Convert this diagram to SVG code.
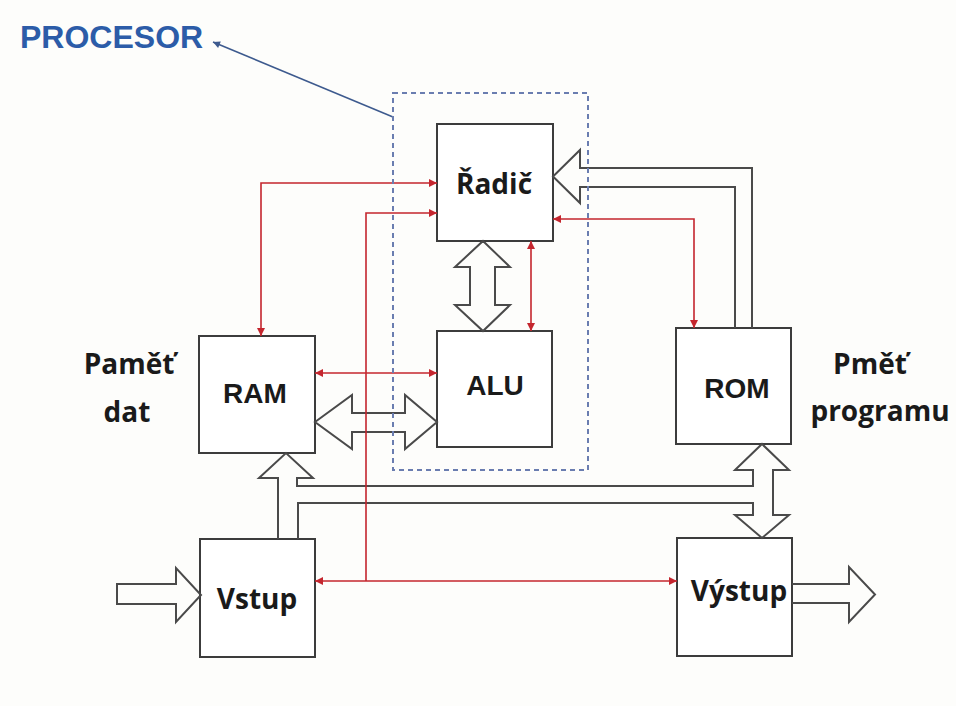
<svg xmlns="http://www.w3.org/2000/svg" width="956" height="706" viewBox="0 0 956 706">
<defs>
<style>
.box{fill:#fff;stroke:#3c3c3c;stroke-width:2}
.bus{fill:none;stroke:#4a4a4a;stroke-width:2;stroke-linejoin:miter}
.red{fill:none;stroke:#c4262e;stroke-width:1.6}
.lbl{font-family:"Liberation Sans",Arial,sans-serif;font-weight:bold;font-size:28px;fill:#1a1a1a;text-anchor:middle}
.lbl2{font-family:"Open Sans","Noto Sans",sans-serif;font-weight:bold;font-size:28px;fill:#1a1a1a;text-anchor:middle}
</style>
<marker id="ra" viewBox="0 0 10 10" refX="10" refY="5" markerWidth="9" markerHeight="8" markerUnits="userSpaceOnUse" orient="auto-start-reverse">
<path d="M0,0 L10,5 L0,10 Z" fill="#c4262e"/>
</marker>
<marker id="ba" viewBox="0 0 10 10" refX="10" refY="5" markerWidth="9" markerHeight="7" markerUnits="userSpaceOnUse" orient="auto">
<path d="M0,0 L10,5 L0,10 Z" fill="#3d5a8e"/>
</marker>
</defs>
<rect width="956" height="706" fill="#fdfdfb"/>

<g id="procesor-label">
<text x="20" y="48" font-family="Liberation Sans,Arial,sans-serif" font-weight="bold" font-size="32" fill="#2c5ca8">PROCESOR</text>
<line x1="393" y1="117" x2="213" y2="42" stroke="#3d5a8e" stroke-width="1.5" marker-end="url(#ba)"/>
</g>

<g id="radic"><rect class="box" x="437" y="124" width="116" height="117"/><text class="lbl2" x="494" y="194" font-size="29">Řadič</text></g>
<g id="alu"><rect class="box" x="437" y="331" width="115" height="116"/><text class="lbl" x="495" y="395">ALU</text></g>
<g id="ram"><rect class="box" x="199" y="336" width="116" height="117"/><text class="lbl" x="255" y="403">RAM</text></g>
<g id="rom"><rect class="box" x="676" y="328" width="115" height="116"/><text class="lbl" x="737" y="398">ROM</text></g>
<g id="vstup"><rect class="box" x="200" y="539" width="115" height="118"/><text class="lbl2" x="257" y="609">Vstup</text></g>
<g id="vystup"><rect class="box" x="677" y="538" width="115" height="118"/><text class="lbl2" x="739" y="601">Výstup</text></g>

<g id="labels">
<text class="lbl2" x="129" y="374">Paměť</text>
<text class="lbl2" x="127" y="422">dat</text>
<text class="lbl2" x="870" y="374">Pměť</text>
<text class="lbl2" x="880" y="421" font-size="29">programu</text>
</g>

<g id="connectors">
<path class="bus" d="M483,241 L510,267 H495 V305 H510 L483,331 L455,305 H470 V267 H455 Z"/>
<path class="bus" d="M315,422 L352,395 V413 H405 V395 L437,422 L405,449 V432 H352 V449 Z"/>
<path class="bus" d="M735,328 V187 H580 V203 L553,176.5 L580,150 V168 H752 V328"/>
<path class="bus" d="M278,539 V478 H259 L286,453 L313,478 H297 V486 H753 V470 H735 L762,444 L789,470 H773 V515 H789 L762,538 L735,515 H753 V503 H298 V539"/>
<path class="bus" d="M117,584 H176 V568 L201,595 L176,622 V604 H117 Z"/>
<path class="bus" d="M792,584 H849 V567 L875,594.5 L849,622 V603 H792"/>

<path class="red" d="M261,336 V183 H437" marker-start="url(#ra)" marker-end="url(#ra)"/>
<path class="red" d="M366,581 V213 H437" marker-end="url(#ra)"/>
<path class="red" d="M315,581 H677" marker-start="url(#ra)" marker-end="url(#ra)"/>
<path class="red" d="M553,219 H694 V328" marker-start="url(#ra)" marker-end="url(#ra)"/>
<path class="red" d="M531,241 V331" marker-start="url(#ra)" marker-end="url(#ra)"/>
<path class="red" d="M315,373 H437" marker-start="url(#ra)" marker-end="url(#ra)"/>
</g>

<g id="procesor-box">
<rect x="393" y="93" width="195" height="377" fill="none" stroke="#6a7db0" stroke-width="2" stroke-dasharray="5 4"/>
</g>
</svg>
